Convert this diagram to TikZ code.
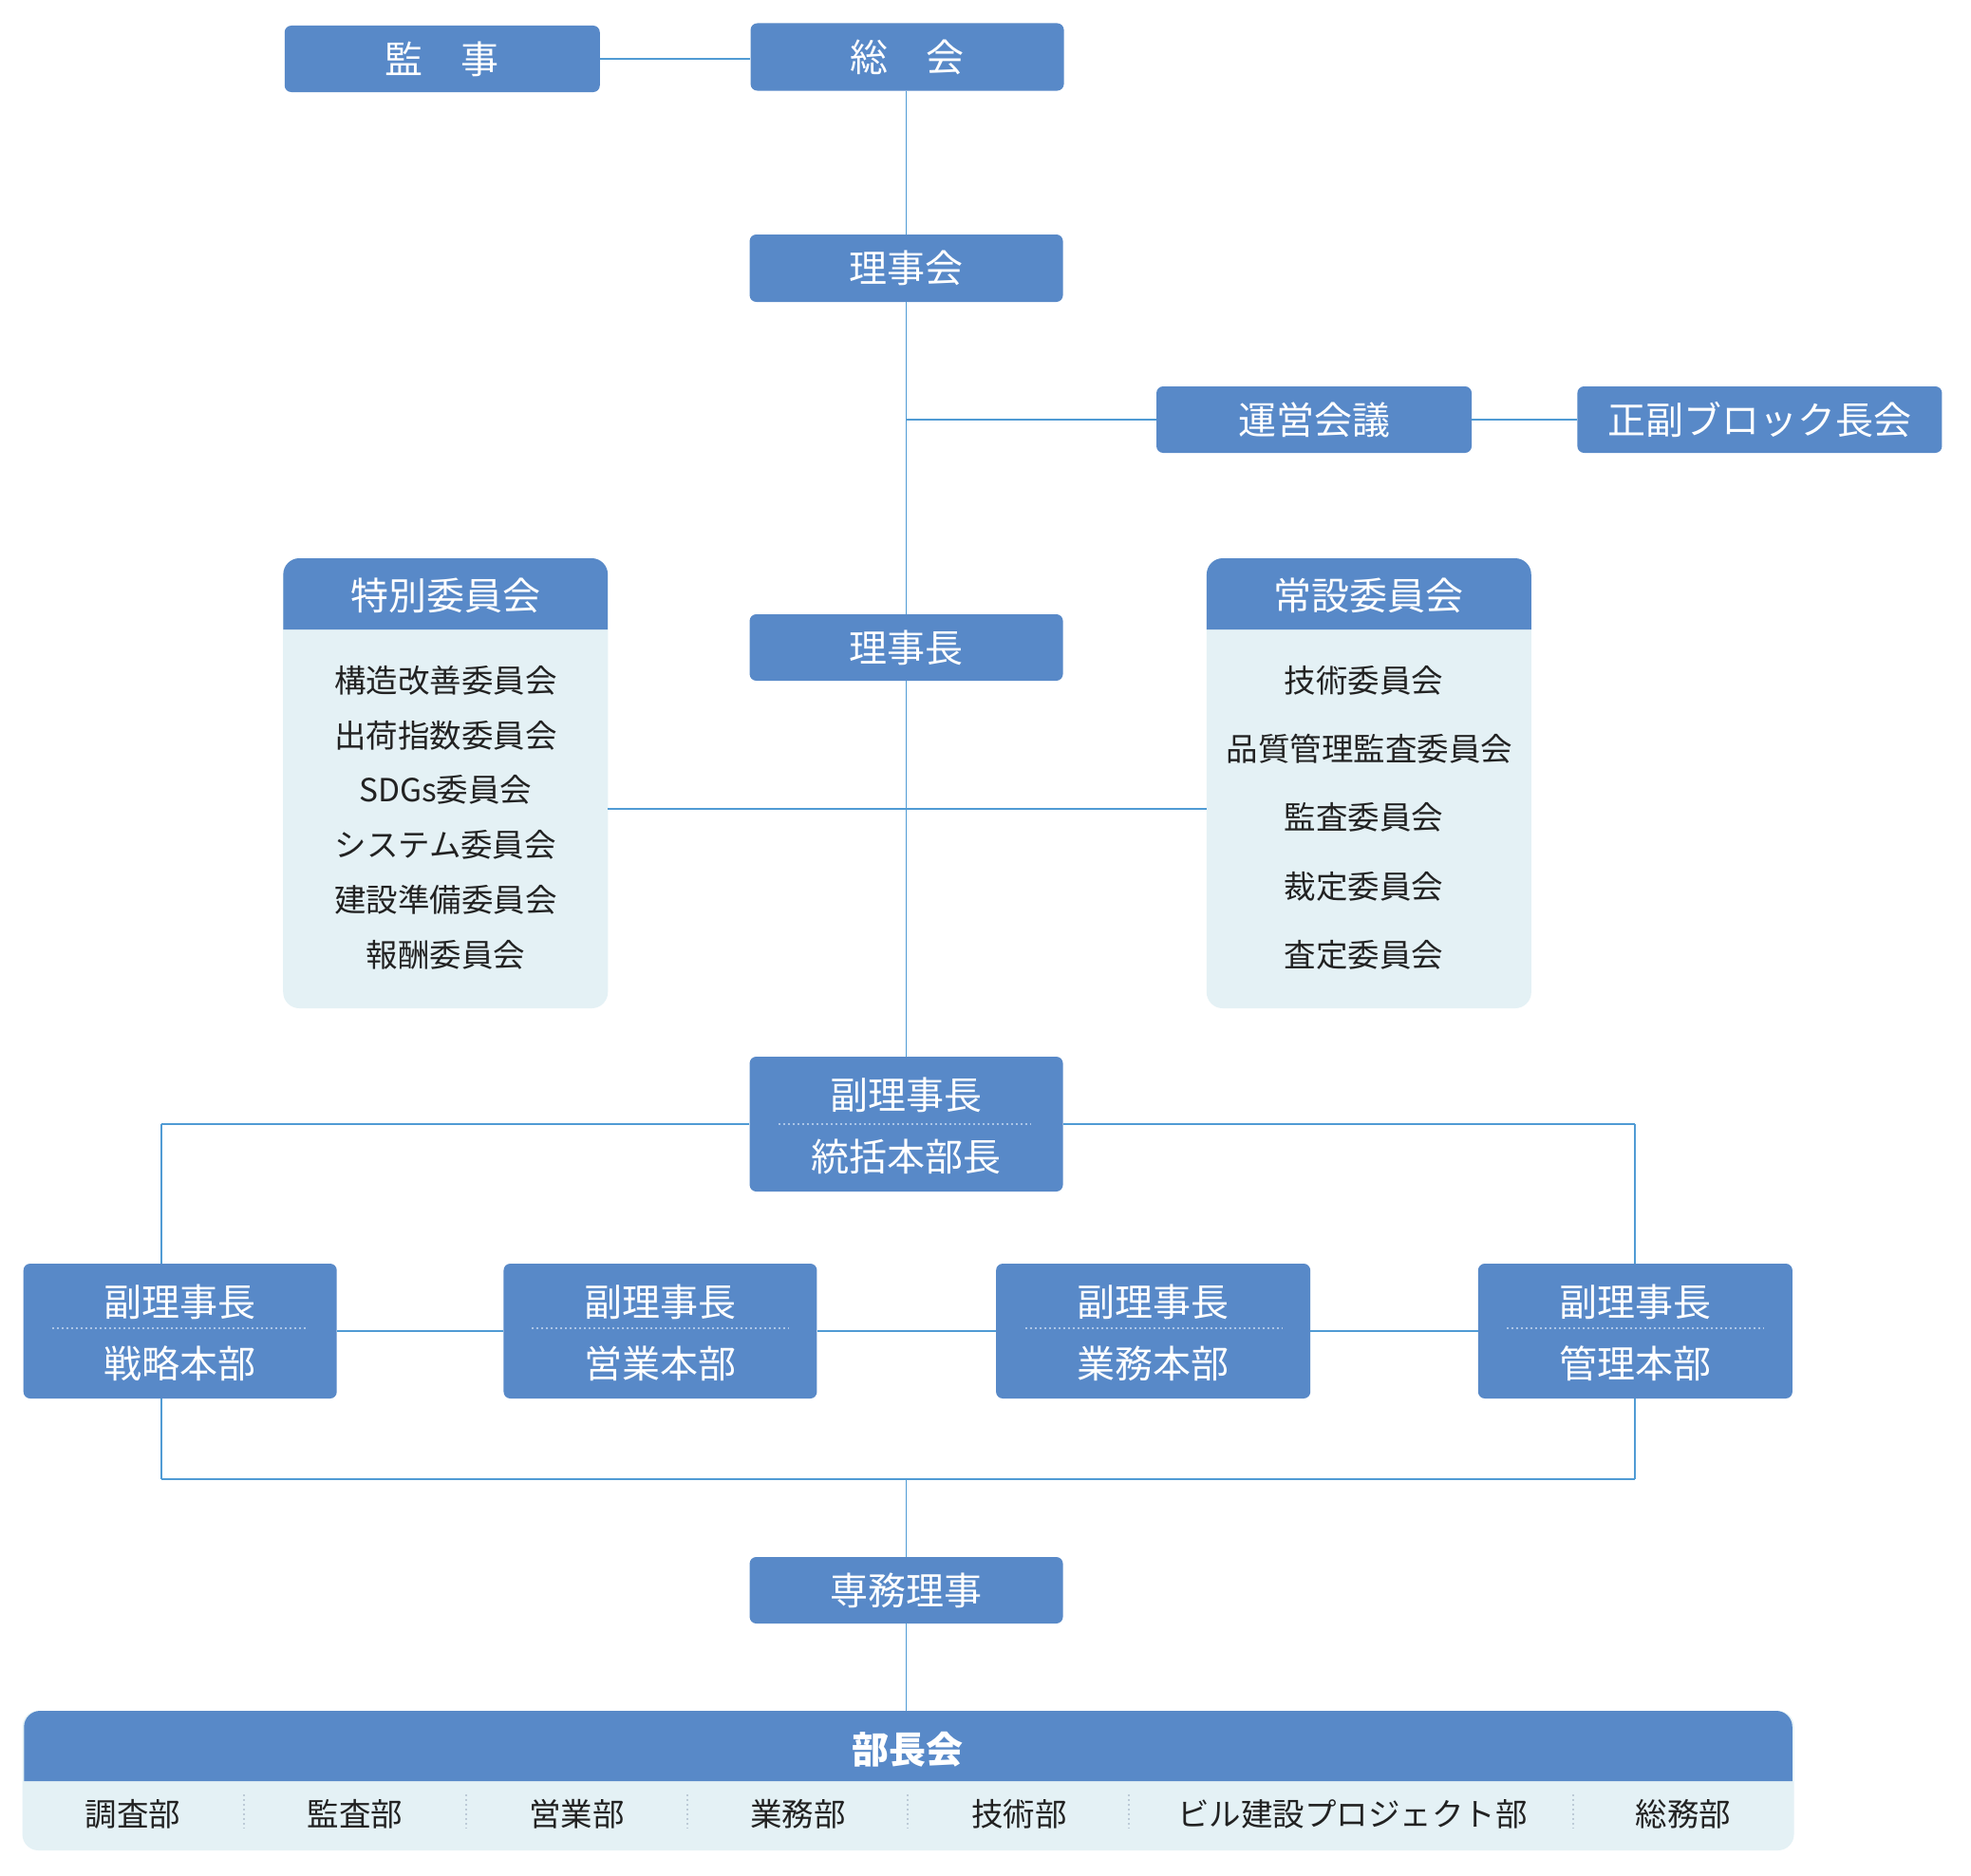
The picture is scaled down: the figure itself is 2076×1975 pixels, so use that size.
\documentclass[tikz,border=0pt]{standalone}
\usepackage{fontspec}
\newfontfamily\jp{Noto Sans CJK JP}
\usetikzlibrary{calc}
\definecolor{boxblue}{RGB}{88,137,200}
\definecolor{linkblue}{RGB}{80,155,212}
\definecolor{panelbg}{RGB}{228,241,245}
\definecolor{sepblue}{RGB}{170,196,230}
\definecolor{sepgray}{RGB}{188,202,214}
\definecolor{itemtext}{RGB}{34,34,34}
\begin{document}
\begin{tikzpicture}[x=1pt,y=-1pt,
  box/.style={fill=boxblue, rounded corners=7pt, minimum width=330pt, minimum height=71pt, inner sep=0pt, text=white, font=\jp\fontsize{40}{46}\selectfont},
  tallbox/.style={box, minimum height=142pt},
  wtext/.style={inner sep=0pt, text=white, font=\jp\fontsize{40}{46}\selectfont},
  panel/.style={fill=panelbg, rounded corners=17pt, inner sep=0pt},
  item/.style={inner sep=0pt, text=itemtext, font=\jp\fontsize{33.5}{40}\selectfont},
  hlink/.style={draw=linkblue, line width=2.7pt},
  vlink/.style={draw=linkblue, line width=1.7pt},
  boxsep/.style={draw=sepblue, line width=2pt, dash pattern=on 2pt off 3pt},
  colsep/.style={draw=sepgray, line width=2pt, dash pattern=on 2pt off 3pt}
]
\useasboundingbox (0,0) rectangle (2076,1975);
\fill[white] (0,0) rectangle (2076,1975);
\begin{scope}[xshift=-2.6pt, xscale=0.9965]
% top boxes
\node[box, minimum width=332pt, minimum height=70pt] (kanji) at (470,62) {監　事};
\node[box] (soukai) at (961.5,60) {総　会};
\node[box] (rijikai) at (960.5,282.5) {理事会};
\node[box, minimum width=332pt, minimum height=70pt] (unei) at (1391.5,442) {運営会議};
\node[box, minimum width=384pt, minimum height=70pt] (seifuku) at (1862.5,442) {正副ブロック長会};
\node[box, minimum height=70pt] (rijicho) at (960.5,682) {理事長};

% special committees panel
\node[panel, minimum width=342pt, minimum height=474pt] (tokp) at (473.5,825) {};
\fill[boxblue] (302,663) [rounded corners=17pt] -- (302,588) -- (645,588) [sharp corners] -- (645,663) -- cycle;
\node[wtext] (tokh) at (473.5,627) {特別委員会};
\node[item] (t1) at (473.5,717) {構造改善委員会};
\node[item] (t2) at (473.5,775) {出荷指数委員会};
\node[item] (t3) at (473.5,832) {SDGs委員会};
\node[item] (t4) at (473.5,890) {システム委員会};
\node[item] (t5) at (473.5,948) {建設準備委員会};
\node[item] (t6) at (473.5,1006) {報酬委員会};

% standing committees panel
\node[panel, minimum width=342pt, minimum height=474pt] (jsp) at (1449.5,825) {};
\fill[boxblue] (1278,663) [rounded corners=17pt] -- (1278,588) -- (1621,588) [sharp corners] -- (1621,663) -- cycle;
\node[wtext] (jsh) at (1449.5,627) {常設委員会};
\node[item] (j1) at (1444,717) {技術委員会};
\node[item] (j2) at (1450,789) {品質管理監査委員会};
\node[item] (j3) at (1444,861) {監査委員会};
\node[item] (j4) at (1444,934) {裁定委員会};
\node[item] (j5) at (1444,1006) {査定委員会};

% vice chairman / general head
\node[tallbox] (fuku) at (960.5,1184) {};
\node[wtext] (fukua) at (960.5,1153) {副理事長};
\node[wtext] (fukub) at (960.5,1218) {統括本部長};
\draw[boxsep] (825,1184) -- (1091,1184);

% four divisions
\node[tallbox, minimum width=330pt] (senryaku) at (193,1402) {};
\node[wtext] (s1) at (193,1371) {副理事長};
\node[wtext] (s2) at (193,1436) {戦略本部};
\draw[boxsep] (58,1399) -- (328,1399);

\node[tallbox] (eigyo) at (700.5,1402) {};
\node[wtext] (e1) at (700.5,1371) {副理事長};
\node[wtext] (e2) at (700.5,1436) {営業本部};
\draw[boxsep] (565,1399) -- (836,1399);

\node[tallbox, minimum width=331pt] (gyomu) at (1221.5,1402) {};
\node[wtext] (g1) at (1221.5,1371) {副理事長};
\node[wtext] (g2) at (1221.5,1436) {業務本部};
\draw[boxsep] (1086,1399) -- (1357,1399);

\node[tallbox, minimum width=331pt] (kanri) at (1731,1402) {};
\node[wtext] (k1) at (1731,1371) {副理事長};
\node[wtext] (k2) at (1731,1436) {管理本部};
\draw[boxsep] (1595,1399) -- (1867,1399);

% executive director
\node[box, minimum height=70pt] (senmu) at (960.5,1675) {専務理事};

% department heads panel
\node[panel, minimum width=1866pt, minimum height=147pt] (bucp) at (962.5,1875.5) {};
\fill[boxblue] (28,1876) [rounded corners=17pt] -- (28,1802) -- (1897,1802) [sharp corners] -- (1897,1876) -- cycle;
\node[wtext, font=\jp\bfseries\fontsize{39}{46}\selectfont] (buch) at (962,1843) {部長会};
\node[item] (b1) at (143,1911) {調査部};
\node[item] (b2) at (378,1911) {監査部};
\node[item] (b3) at (612,1911) {営業部};
\node[item] (b4) at (846,1911) {業務部};
\node[item] (b5) at (1080,1911) {技術部};
\node[item] (b6) at (1432,1911) {ビル建設プロジェクト部};
\node[item] (b7) at (1782,1911) {総務部};
\foreach \x in {261,495,729,962,1196,1665}
  \draw[colsep] (\x,1890) -- (\x,1926);

% connectors
\draw[hlink] (kanji.east) -- (kanji.east -| soukai.west);
\draw[vlink] (soukai.south -| rijikai.north) -- (rijikai.north);
\draw[vlink] (rijikai.south) -- (rijicho.north);
\draw[vlink] (rijicho.south) -- (fuku.north);
\coordinate (ju) at (960.5,442);
\draw[hlink] (ju) -- (unei.west);
\draw[hlink] (unei.east) -- (seifuku.west);
\draw[hlink] (tokp.east |- 0,852) -- (jsp.west |- 0,852);
\coordinate (lt) at (173,1184);
\draw[hlink] (fuku.west) -- (lt);
\draw[vlink, line width=2pt] (lt) -- (lt |- senryaku.north);
\draw[hlink] (fuku.east) -- (kanri.north |- fuku.east);
\draw[vlink, line width=2pt] (kanri.north |- fuku.east) -- (kanri.north);
\draw[hlink] (senryaku.east) -- (eigyo.west);
\draw[hlink] (eigyo.east) -- (gyomu.west);
\draw[hlink] (gyomu.east) -- (kanri.west);
\coordinate (lb) at (173,1558);
\coordinate (rb) at (1731,1558);
\draw[vlink, line width=2pt] (lt |- senryaku.south) -- (lb);
\draw[vlink, line width=2pt] (kanri.south) -- (rb);
\draw[hlink] (lb) -- (rb);
\draw[vlink] (senmu.north |- lb) -- (senmu.north);
\draw[vlink] (senmu.south) -- (senmu.south |- bucp.north);
\end{scope}
\end{tikzpicture}
\end{document}
